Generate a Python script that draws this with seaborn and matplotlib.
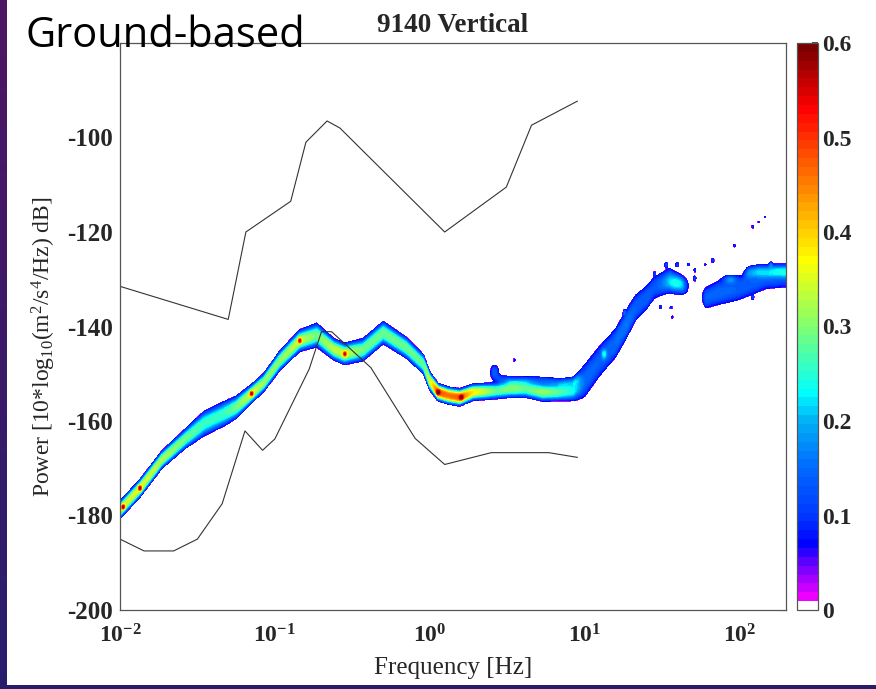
import numpy as np
import pandas as pd
import matplotlib
matplotlib.use("Agg")
import matplotlib.pyplot as plt
import seaborn as sns

# ---------------------------------------------------------------------------
# Peterson noise models (frequency in Hz, power in dB)
nhnm_freq = [0.01, 0.05, 0.065, 0.1266, 0.1587, 0.2174, 0.2632, 1.25, 3.125, 4.545, 9.0]
nhnm_db = [-131.5, -138.5, -120.0, -113.5, -101.0, -96.5, -98.0, -120.0, -110.5, -97.4, -92.3]

nlnm_freq = [0.01, 0.0143, 0.0222, 0.0316, 0.0457, 0.0641, 0.0833, 0.1, 0.1667,
             0.2, 0.2326, 0.4167, 0.806, 1.25, 2.5, 5.88, 9.0]
nlnm_db = [-185.0, -187.5, -187.5, -185.0, -177.5, -162.1, -166.2, -163.8, -149.0,
           -141.1, -141.1, -148.7, -163.7, -169.2, -166.7, -166.7, -167.7]

# Main PSD ridge: log10(frequency), modal power, peak probability, spread (dB)
ridge_logf = [-2.00, -1.87, -1.73, -1.58, -1.46, -1.33, -1.25, -1.15, -1.07, -0.97,
              -0.84, -0.73, -0.62, -0.55, -0.43, -0.30, -0.15, -0.04, 0.00, 0.054,
              0.12, 0.194, 0.28, 0.43, 0.52, 0.62, 0.73, 0.82, 0.925, 1.00,
              1.09, 1.20, 1.27, 1.33, 1.40, 1.45, 1.55, 1.63, 1.67, 1.70,
              1.75, 1.785, 1.87, 1.98, 2.09, 2.17, 2.31]
ridge_db = [-178.8, -174.2, -168.2, -163.8, -160.6, -158.5, -157.1, -154.2, -151.8, -147.3,
            -143.0, -141.8, -144.8, -145.8, -144.9, -141.3, -144.5, -148.0, -151.5, -153.9,
            -154.6, -155.0, -153.9, -153.6, -153.2, -153.2, -153.9, -153.9, -153.6, -151.5,
            -147.6, -143.5, -139.5, -136.0, -133.9, -131.8, -130.2, -131.4, -132.0, -133.0,
            -133.8, -133.9, -132.8, -132.1, -130.7, -129.7, -129.3]
ridge_peak = [0.34, 0.35, 0.32, 0.29, 0.26, 0.26, 0.29, 0.34, 0.31, 0.30,
              0.34, 0.29, 0.33, 0.34, 0.29, 0.29, 0.29, 0.28, 0.34, 0.48,
              0.46, 0.48, 0.38, 0.28, 0.30, 0.28, 0.31, 0.28, 0.24, 0.15,
              0.14, 0.15, 0.16, 0.14, 0.14, 0.13, 0.16, 0.13, 0.03, 0.00,
              0.03, 0.14, 0.15, 0.14, 0.14, 0.14, 0.14]
ridge_sigma = [1.15, 1.15, 1.15, 1.3, 1.7, 1.7, 1.5, 1.2, 1.2, 1.3,
               1.4, 1.6, 1.4, 1.4, 1.5, 1.5, 1.4, 1.3, 1.2, 1.05,
               1.05, 1.05, 1.05, 1.1, 1.15, 1.15, 1.2, 1.2, 1.4, 2.7,
               2.6, 2.4, 2.3, 2.2, 2.0, 1.9, 1.9, 1.4, 1.2, 1.2,
               1.2, 1.8, 2.0, 2.0, 2.0, 1.9, 1.9]

# Upper branch between 2 and 10 Hz
mid_branch_logf = [0.38, 0.45, 0.55, 0.65, 0.75, 0.85, 0.93, 0.98]
mid_branch_db = [-150.5, -151.0, -151.5, -151.3, -151.5, -151.8, -151.5, -150.5]
mid_branch_peak = [0.0, 0.10, 0.11, 0.10, 0.11, 0.11, 0.10, 0.0]
mid_branch_sigma = [0.7, 0.7, 0.7, 0.7, 0.7, 0.7, 0.7, 0.7]

# Upper branch above 100 Hz
hf_branch_logf = [2.02, 2.06, 2.12, 2.18, 2.24, 2.31]
hf_branch_db = [-129.0, -128.4, -128.2, -128.3, -128.2, -128.3]
hf_branch_peak = [0.0, 0.12, 0.13, 0.10, 0.12, 0.12]
hf_branch_sigma = [0.9, 0.9, 0.9, 0.9, 0.9, 0.9]

# Isolated patches and hot spots: log10(f), dB, peak, spread in log10(f), spread in dB
patch_logf = [0.419, 0.548, 1.126, 1.258, 1.49, 1.559, 1.566, 1.452, 1.527, 1.598,
              1.671, 1.712, 1.712, 1.781, 1.828, 1.94, 1.968, 2.086, 2.125, 2.163,
              2.204, 2.086, 1.60,
              -1.979, -1.871, -1.150, -0.839, -0.548, 0.054, 0.205]
patch_db = [-149.4, -147.1, -145.8, -137.0, -135.9, -136.0, -138.0, -128.8, -126.9, -126.9,
            -126.9, -128.1, -129.8, -126.9, -126.0, -130.0, -122.9, -118.9, -117.9, -116.8,
            -126.9, -133.9, -130.8,
            -178.2, -174.2, -154.2, -143.0, -145.8, -153.9, -155.0]
patch_peak = [0.13, 0.08, 0.10, 0.09, 0.09, 0.09, 0.08, 0.08, 0.10, 0.10,
              0.09, 0.09, 0.10, 0.08, 0.10, 0.11, 0.09, 0.09, 0.08, 0.08,
              0.09, 0.08, 0.10,
              0.24, 0.24, 0.24, 0.22, 0.22, 0.16, 0.16]
patch_wf = [0.02, 0.006, 0.01, 0.006, 0.008, 0.008, 0.006, 0.005, 0.008, 0.01,
            0.007, 0.006, 0.008, 0.006, 0.008, 0.03, 0.007, 0.006, 0.005, 0.005,
            0.007, 0.005, 0.05,
            0.007, 0.007, 0.007, 0.007, 0.007, 0.008, 0.008]
patch_wdb = [1.0, 0.4, 0.7, 0.4, 0.4, 0.35, 0.35, 0.35, 0.45, 0.45,
             0.35, 0.4, 0.5, 0.3, 0.5, 0.6, 0.35, 0.35, 0.3, 0.3,
             0.4, 0.35, 1.3,
             0.35, 0.35, 0.35, 0.35, 0.35, 0.35, 0.35]

# Colour scale anchors (probability -> colour)
cmap_vals = [0.0094, 0.03, 0.05, 0.07, 0.10, 0.15, 0.20, 0.23, 0.30, 0.37, 0.42, 0.47, 0.53, 0.60]
cmap_cols = ["#ff00ff", "#b000ff", "#6000ff", "#0000ff", "#0038ff", "#0068ff", "#00b0f5",
             "#00ffff", "#80ff70", "#ffff00", "#ffb000", "#ff6000", "#ff0000", "#700000"]

cbar_ticks = [0, 0.1, 0.2, 0.3, 0.4, 0.5, 0.6]
cbar_labels = ["0", "0.1", "0.2", "0.3", "0.4", "0.5", "0.6"]
y_ticks = [-200, -180, -160, -140, -120, -100]
y_labels = ["-200", "-180", "-160", "-140", "-120", "-100"]
x_ticks = [0.01, 0.1, 1, 10, 100]
x_labels = [r"$\mathbf{10^{-2}}$", r"$\mathbf{10^{-1}}$", r"$\mathbf{10^{0}}$",
            r"$\mathbf{10^{1}}$", r"$\mathbf{10^{2}}$"]

# ---------------------------------------------------------------------------
sns.set_theme(style="white")
plt.rcParams["font.family"] = ["Liberation Serif", "DejaVu Serif"]
plt.rcParams["mathtext.fontset"] = "custom"
plt.rcParams["mathtext.rm"] = "Liberation Serif"
plt.rcParams["mathtext.it"] = "Liberation Serif:italic"
plt.rcParams["mathtext.bf"] = "Liberation Serif:bold"
plt.rcParams["axes.unicode_minus"] = False

W, H = 876, 689
fig = plt.figure(figsize=(W / 100, H / 100), dpi=100)
fig.patch.set_facecolor("white")

# slide frame: purple strip on the left, blue strip along the bottom
bg = fig.add_axes([0, 0, 1, 1], zorder=-10)
bg.axis("off")
frame = np.ones((H, W, 3))
top_col = np.array([78, 22, 98]) / 255
bot_col = np.array([40, 30, 110]) / 255
tt = np.linspace(0, 1, H)[:, None]
frame[:, :7, :] = ((1 - tt) * top_col + tt * bot_col)[:, None, :]
frame[H - 4:, :, :] = np.array([38, 30, 105]) / 255
bg.imshow(frame, extent=[0, 1, 0, 1], aspect="auto", interpolation="nearest")
bg.set_xlim(0, 1)
bg.set_ylim(0, 1)

ax = fig.add_axes([120 / W, 79 / H, 666 / W, 567 / H])
cax = fig.add_axes([797 / W, 79 / H, 21 / W, 567 / H])

# probability density field
logf = np.linspace(-2.0, np.log10(200), 1400)
dbg = np.arange(-200.0, -79.95, 0.1)
L, D = np.meshgrid(logf, dbg)


def ridge(lf, d, p, s):
    centre = np.interp(logf, lf, d)
    peak = np.interp(logf, lf, p, left=0.0, right=0.0)
    spread = np.interp(logf, lf, s)
    z = np.abs((D - centre[None, :]) / spread[None, :])
    return peak[None, :] * np.exp(-0.5 * z ** 2.4)


field = ridge(ridge_logf, ridge_db, ridge_peak, ridge_sigma)
field += ridge(mid_branch_logf, mid_branch_db, mid_branch_peak, mid_branch_sigma)
field += ridge(hf_branch_logf, hf_branch_db, hf_branch_peak, hf_branch_sigma)
for lf0, d0, p0, wf, wd in zip(patch_logf, patch_db, patch_peak, patch_wf, patch_wdb):
    field += p0 * np.exp(-0.5 * (((L - lf0) / wf) ** 2 + ((D - d0) / wd) ** 2))
field[field < 0.065] = 0.0
field = np.clip(field, 0.0, 0.599)

nbins = 64
edges = np.linspace(0.0, 0.6, nbins + 1)
centres = 0.5 * (edges[:-1] + edges[1:])
anchor_rgb = np.array([matplotlib.colors.to_rgb(c) for c in cmap_cols])
colours = [(1.0, 1.0, 1.0)]
for v in centres[1:]:
    colours.append(tuple(np.interp(v, cmap_vals, anchor_rgb[:, k]) for k in range(3)))

ax.set_xscale("log")
cf = ax.contourf(10 ** L, D, field, levels=edges, colors=colours, antialiased=False)

# noise models
models = pd.concat([
    pd.DataFrame({"freq": nhnm_freq, "power": nhnm_db, "model": "NHNM"}),
    pd.DataFrame({"freq": nlnm_freq, "power": nlnm_db, "model": "NLNM"}),
])
sns.lineplot(data=models, x="freq", y="power", units="model", estimator=None, sort=False,
             color="#333333", linewidth=0.8, legend=False, ax=ax)

ax.set_xlim(0.01, 200)
ax.set_ylim(-200, -80)
ax.set_xticks(x_ticks)
ax.set_xticklabels(x_labels, fontsize=17)
ax.set_yticks(y_ticks)
ax.set_yticklabels(y_labels, fontsize=18, fontweight="bold")
ax.tick_params(which="both", direction="in", top=True, right=True, color="#555555")
ax.tick_params(which="major", length=6, width=0.8)
ax.tick_params(axis="x", which="major", pad=10)
ax.tick_params(axis="y", which="major", pad=5)
ax.tick_params(which="minor", length=3, width=0.6)
for sp in ax.spines.values():
    sp.set_color("#555555")
    sp.set_linewidth(0.9)

ax.set_xlabel("Frequency [Hz]", fontsize=18, labelpad=7)
ax.set_ylabel(r"Power [10*log$_{10}$(m$^2$/s$^4$/Hz) dB]", fontsize=17)
ax.yaxis.set_label_coords(-0.093, 0.464)
ax.set_title("9140 Vertical", fontsize=19.5, fontweight="bold", pad=8)

cb = fig.colorbar(cf, cax=cax, ticks=cbar_ticks)
cb.ax.set_yticklabels(cbar_labels, fontsize=17, fontweight="bold")
cb.ax.tick_params(direction="in", length=4, color="#333333", pad=3)
cb.outline.set_edgecolor("#555555")
cb.outline.set_linewidth(0.9)

fig.text(26 / W, 1 - 47 / H, "Ground-based", fontsize=30, family=["Open Sans", "DejaVu Sans"],
         va="baseline", ha="left", color="black", zorder=20)

fig.savefig("out.png", dpi=100)
